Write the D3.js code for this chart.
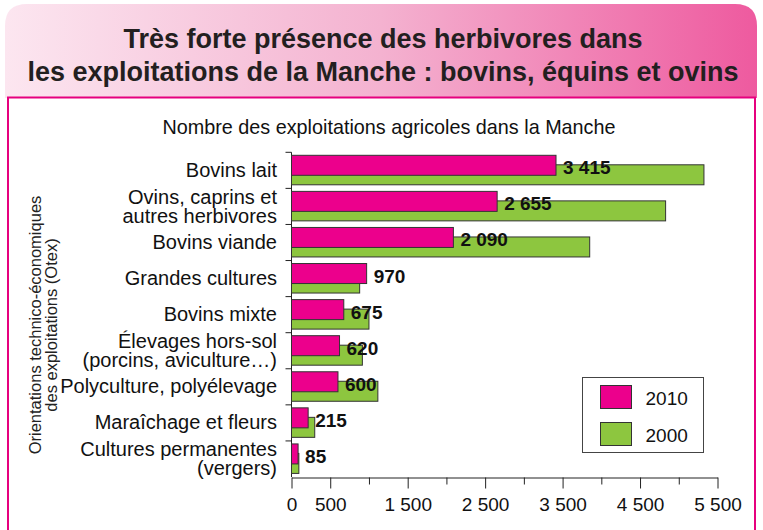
<!DOCTYPE html>
<html>
<head>
<meta charset="utf-8">
<script src="https://cdn.jsdelivr.net/npm/d3@7"></script>
<style>
  body { margin: 0; background: #fff; }
  svg { display: block; font-family: "Liberation Sans", Arial, sans-serif; }
</style>
</head>
<body>
<svg id="chart"></svg>
<script>
// données
const categories = [
    ["Bovins lait"],
    ["Ovins, caprins et", "autres herbivores"],
    ["Bovins viande"],
    ["Grandes cultures"],
    ["Bovins mixte"],
    ["Élevages hors-sol", "(porcins, aviculture…)"],
    ["Polyculture, polyélevage"],
    ["Maraîchage et fleurs"],
    ["Cultures permanentes", "(vergers)"]
];
const values2010 = [3415, 2655, 2090, 970, 675, 620, 600, 215, 85];
const values2000 = [5325, 4830, 3850, 880, 1000, 915, 1115, 300, 95];
const tickValues = [0, 500, 1000, 1500, 2000, 2500, 3000, 3500, 4000, 4500, 5000, 5500];
const tickLabels = [0, 500, 1500, 2500, 3500, 4500, 5500];
const seriesNames = ["2010", "2000"];

const width = 763, height = 530;
const pink = "#ec008c", green = "#8dc63f";

const svg = d3.select("#chart").attr("width", width).attr("height", height);

// en-tête dégradé
const defs = svg.append("defs");
const grad = defs.append("linearGradient").attr("id", "hdr");
grad.append("stop").attr("offset", "0%").attr("stop-color", "#fce6f0");
grad.append("stop").attr("offset", "50%").attr("stop-color", "#f4b2d0");
grad.append("stop").attr("offset", "100%").attr("stop-color", "#ee5a9f");

const hx = 5, hy = 4, hw = 752, hh = 94, rr = 22;
svg.append("path")
    .attr("d", `M${hx},${hy + hh} V${hy + rr} Q${hx},${hy} ${hx + rr},${hy} H${hx + hw - rr} Q${hx + hw},${hy} ${hx + hw},${hy + rr} V${hy + hh} Z`)
    .attr("fill", "url(#hdr)");

svg.append("rect")
    .attr("x", 8).attr("y", 97.5)
    .attr("width", 747).attr("height", 450)
    .attr("fill", "#fff")
    .attr("stroke", "#e6007e")
    .attr("stroke-width", 2);

const title = svg.append("text")
    .attr("text-anchor", "middle")
    .style("font-size", "27px")
    .style("font-weight", "bold")
    .attr("fill", "#231f20");
title.append("tspan").attr("x", 383).attr("y", 48).text("Très forte présence des herbivores dans");
title.append("tspan").attr("x", 383).attr("y", 81).text("les exploitations de la Manche : bovins, équins et ovins");

svg.append("text")
    .attr("x", 389).attr("y", 134)
    .attr("text-anchor", "middle")
    .style("font-size", "19.8px")
    .attr("fill", "#111")
    .text("Nombre des exploitations agricoles dans la Manche");

// échelles
const x = d3.scaleLinear().domain([0, 5500]).range([291.5, 717.5]);
const y = d3.scaleBand().domain(d3.range(categories.length)).range([152.3, 477]);
const bh = 20;

const fr = d3.formatLocale({ decimal: ",", thousands: " ", grouping: [3], currency: ["", " €"] });
const fmt = fr.format(",d");

// axe X
const axisX = d3.axisBottom(x)
    .tickValues(tickValues)
    .tickSize(0)
    .tickFormat(d => tickLabels.includes(d) ? fmt(d) : "");
const gX = svg.append("g")
    .attr("transform", `translate(0,477.5)`)
    .call(axisX);
gX.select(".domain").attr("stroke", "#222");
gX.selectAll(".tick line")
    .attr("y2", d => tickLabels.includes(d) ? 11 : 7)
    .attr("stroke", "#222");
gX.selectAll(".tick text")
    .attr("y", 20)
    .attr("dy", "0.71em")
    .style("font-size", "19px")
    .style("font-family", "Liberation Sans, Arial, sans-serif")
    .attr("fill", "#111");

// axe Y
const gY = svg.append("g").attr("transform", "translate(291.5,0)");
gY.append("line")
    .attr("y1", y.range()[0]).attr("y2", y.range()[1])
    .attr("stroke", "#222");
gY.selectAll(".yt")
    .data(d3.range(categories.length))
    .enter().append("line")
    .attr("class", "yt")
    .attr("x1", -6).attr("x2", 0)
    .attr("y1", d => y(d)).attr("y2", d => y(d))
    .attr("stroke", "#222");

// libellés des catégories
categories.forEach((lines, i) => {
    const cy = y(i) + y.bandwidth() / 2;
    const t = svg.append("text")
        .attr("text-anchor", "end")
        .style("font-size", "20px")
        .attr("fill", "#111");
    if (lines.length === 1) {
        t.append("tspan").attr("x", 277).attr("y", cy + 6.5).text(lines[0]);
    } else {
        t.append("tspan").attr("x", 277).attr("y", cy - 2.5).text(lines[0]);
        t.append("tspan").attr("x", 277).attr("y", cy + 16.5).text(lines[1]);
    }
});

// barres 2000 (derrière)
svg.selectAll(".bar2000")
    .data(values2000)
    .enter().append("rect")
    .attr("class", "bar2000")
    .attr("x", x(0))
    .attr("y", (d, i) => y(i) + 12.5)
    .attr("width", d => x(d) - x(0))
    .attr("height", bh)
    .attr("fill", green)
    .attr("stroke", "#333")
    .attr("stroke-width", 1);

// barres 2010
svg.selectAll(".bar2010")
    .data(values2010)
    .enter().append("rect")
    .attr("class", "bar2010")
    .attr("x", x(0))
    .attr("y", (d, i) => y(i) + 3)
    .attr("width", d => x(d) - x(0))
    .attr("height", bh)
    .attr("fill", pink)
    .attr("stroke", "#333")
    .attr("stroke-width", 1);

// valeurs 2010
svg.selectAll(".val")
    .data(values2010)
    .enter().append("text")
    .attr("class", "val")
    .attr("x", d => x(d) + 7)
    .attr("y", (d, i) => y(i) + 22)
    .style("font-size", "19px")
    .style("font-weight", "bold")
    .attr("fill", "#111")
    .text(d => fmt(d));

// titre de l'axe Y
const yt = svg.append("text")
    .attr("transform", "translate(41,325) rotate(-90)")
    .attr("text-anchor", "middle")
    .style("font-size", "16.5px")
    .attr("fill", "#222");
yt.append("tspan").attr("x", 0).attr("y", 0).text("Orientations technico-économiques");
yt.append("tspan").attr("x", 0).attr("y", 16).text("des exploitations (Otex)");

// légende
const lg = svg.append("g").attr("transform", "translate(582.5,377.5)");
lg.append("rect")
    .attr("width", 121).attr("height", 75)
    .attr("fill", "#fff").attr("stroke", "#444");
[pink, green].forEach((c, i) => {
    lg.append("rect")
        .attr("x", 18).attr("y", 8 + i * 37)
        .attr("width", 31).attr("height", 23)
        .attr("fill", c).attr("stroke", "#333");
    lg.append("text")
        .attr("x", 63).attr("y", 8 + i * 37 + 19)
        .style("font-size", "19px")
        .attr("fill", "#111")
        .text(seriesNames[i]);
});
</script>
</body>
</html>
